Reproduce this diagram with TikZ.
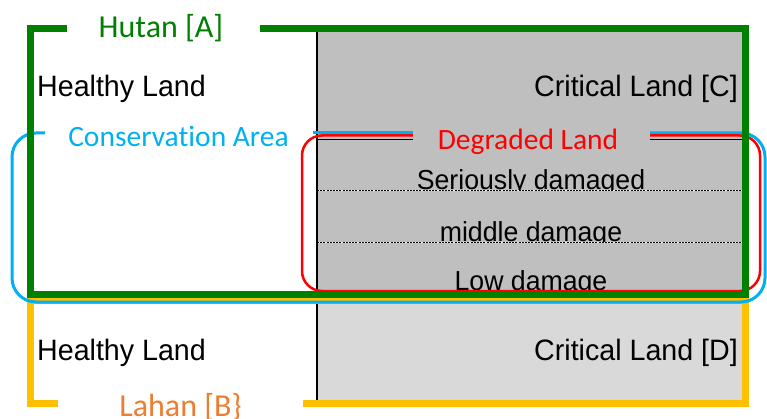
\documentclass[tikz,border=0pt]{standalone}
\usepackage{fontspec}
\setmainfont{Liberation Sans}
\newfontfamily\arialn[FakeStretch=0.97]{Liberation Sans}
\newfontfamily\calib[Ligatures=NoCommon]{Carlito}
\definecolor{hgreen}{HTML}{008000}
\definecolor{cblue}{HTML}{00B0F0}
\definecolor{lorange}{HTML}{ED7D31}
\definecolor{yel}{HTML}{FFC000}
\definecolor{grayC}{HTML}{BFBFBF}
\definecolor{grayD}{HTML}{D9D9D9}
\begin{document}
\begin{tikzpicture}[x=1pt,y=-1pt,
  blk/.style={font=\arialn\fontsize{29.5}{32}\selectfont, inner sep=0pt},
  dmg/.style={font=\arialn\fontsize{27.5}{30}\selectfont, inner sep=0pt, anchor=base},
  ttl/.style={font=\calib\fontsize{32}{34}\selectfont, inner sep=0pt, anchor=base},
  sub/.style={font=\calib\fontsize{29.5}{32}\selectfont, inner sep=0pt, anchor=base},
  dashline/.style={black, line width=0.8pt, dash pattern=on 2pt off 1.2pt},
]
\useasboundingbox (0,0) rectangle (767,419);
% fills
\fill[grayC] (317,32) rectangle (742,293);
\fill[grayD] (317,300) rectangle (742,400);
% dashed band separators
\foreach \yy in {190,242}{
  \draw[white, line width=0.8pt] (317,\yy) -- (742,\yy);
  \draw[dashline] (317,\yy) -- (742,\yy);
}
% damage texts (clipped at their band bottoms)
\begin{scope}
  \clip (317,150) rectangle (742,190);
  \node[dmg] (sd) at (531,189.5) {Seriously damaged};
\end{scope}
\begin{scope}
  \clip (317,192) rectangle (742,241.5);
  \node[dmg] (md) at (531,242) {middle damage};
\end{scope}
\begin{scope}
  \clip (317,244) rectangle (742,292);
  \node[dmg] (ld) at (531,290.5) {Low damage};
\end{scope}
% black lines
\draw[black, line width=1.5pt] (317,32) -- (317,400);
\draw[black, line width=1.5pt] (317,139.5) -- (413,139.5);
\draw[black, line width=1.5pt] (650,139.5) -- (742,139.5);
% yellow box (Lahan B)
\draw[yel, line width=7pt] (58,403) -- (30,403) -- (30,300) -- (745,300) -- (745,403) -- (303,403);
% blue rounded box (Conservation Area)
\draw[cblue, line width=3pt, rounded corners=24pt] (45,133) -- (12,133) -- (12,302) -- (765,302) -- (765,133) -- (650,133);
\draw[cblue, line width=3pt] (313,133) -- (413,133);
% red rounded box (Degraded Land)
\draw[red, line width=2.5pt, rounded corners=20pt] (413,135.5) -- (302,135.5) -- (302,291) -- (760,291) -- (760,135.5) -- (650,135.5);
% green box (Hutan A)
\draw[hgreen, line width=7pt] (67,28.5) -- (30,28.5) -- (30,294.5) -- (745,294.5) -- (745,28.5) -- (260,28.5);
% land texts
\node[blk, anchor=base west] (hl1) at (37,96.7) {Healthy Land};
\node[blk, anchor=base east] (clc) at (738,96.7) {Critical Land [C]};
\node[blk, anchor=base west] (hl2) at (37,360) {Healthy Land};
\node[blk, anchor=base east] (cld) at (738,360) {Critical Land [D]};
% titles
\node[ttl, text=hgreen] (hutan) at (161,37.7) {Hutan [A]};
\node[ttl, text=lorange] (lahan) at (180.5,416) {Lahan [B\}};
\node[sub, text=cblue] (cons) at (178.5,146.7) {Conservation Area};
\node[sub, text=red] (degr) at (528,150) {Degraded Land};
\end{tikzpicture}
\end{document}
